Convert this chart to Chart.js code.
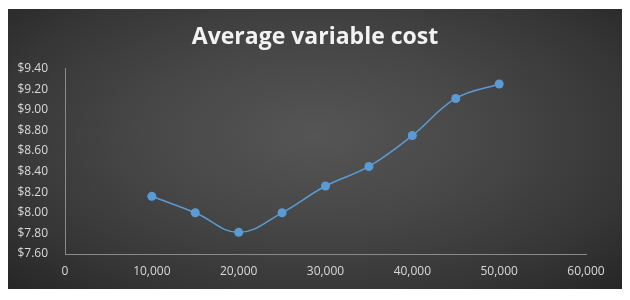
<!DOCTYPE html>
<html>
<head>
<meta charset="utf-8">
<script src="https://cdn.jsdelivr.net/npm/chart.js@4"></script>
<style>
  html, body { margin: 0; padding: 0; background: #fff; }
  #frame {
    position: absolute;
    left: 8px; top: 9px;
    width: 614px; height: 280px;
    background: radial-gradient(ellipse at 50% 45%, #555555 0%, #474747 40%, #363636 75%, #262626 100%);
  }
</style>
</head>
<body>
<div id="frame"><canvas id="chart"></canvas></div>
<script>
// Output quantity and average variable cost
const outputs = [10000, 15000, 20000, 25000, 30000, 35000, 40000, 45000, 50000];
const avgVarCost = [8.16, 8.00, 7.81, 8.00, 8.26, 8.45, 8.75, 9.11, 9.25];

const X_MIN = 0, X_MAX = 60000, X_STEP = 10000;
const Y_MIN = 7.6, Y_MAX = 9.4, Y_STEP = 0.2;

const tickColor = '#d9d9d9';
const axisColor = '#8a8a8a';
const blue = '#5b9bd5';

const points = outputs.map((x, i) => ({ x: x, y: avgVarCost[i] }));

new Chart(document.getElementById('chart'), {
  type: 'scatter',
  data: {
    datasets: [{
      label: 'Average variable cost',
      data: points,
      showLine: true,
      borderColor: blue,
      borderWidth: 1.5,
      backgroundColor: blue,
      pointRadius: 4.5,
      pointHoverRadius: 4.5,
      pointBorderWidth: 0,
      tension: 0.4
    }]
  },
  options: {
    responsive: true,
    maintainAspectRatio: false,
    animation: false,
    layout: { padding: 0 },
    plugins: {
      legend: { display: false },
      tooltip: { enabled: false },
      title: {
        display: true,
        text: 'Average variable cost',
        color: '#f2f2f2',
        font: { family: 'Open Sans', size: 23, weight: 'bold' },
        padding: { top: 15, bottom: 17 }
      }
    },
    scales: {
      x: {
        type: 'linear',
        min: X_MIN, max: X_MAX,
        grid: { display: false, drawTicks: false },
        border: { display: true, color: axisColor, width: 1 },
        ticks: {
          stepSize: X_STEP,
          color: tickColor,
          font: { family: 'Open Sans', size: 12 },
          padding: 10,
          maxRotation: 0,
          callback: v => v.toLocaleString('en-US')
        },
        afterFit: s => { s.height = 35; }
      },
      y: {
        min: Y_MIN, max: Y_MAX,
        grid: { display: false, drawTicks: false },
        border: { display: true, color: axisColor, width: 1 },
        ticks: {
          stepSize: Y_STEP,
          color: tickColor,
          font: { family: 'Open Sans', size: 12 },
          padding: 17,
          callback: v => '$' + v.toFixed(2)
        },
        afterFit: s => { s.width = 57; }
      },
      // empty right-hand spacer so the title stays centred on the whole frame
      spacer: {
        position: 'right',
        min: Y_MIN, max: Y_MAX,
        grid: { display: false, drawTicks: false },
        border: { display: false },
        ticks: { display: false },
        afterFit: s => { s.width = 36; }
      }
    }
  }
});
</script>
</body>
</html>
